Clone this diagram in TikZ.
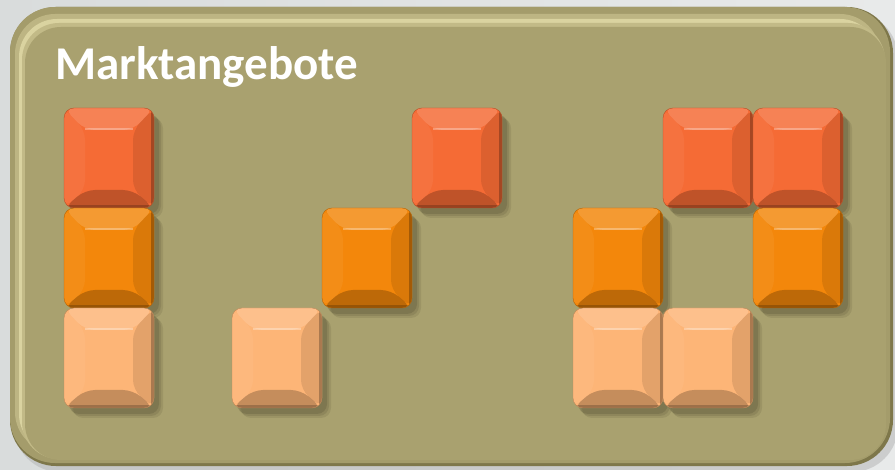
\documentclass[tikz,border=0pt]{standalone}
\usepackage{fontspec}
\setmainfont{Carlito}
\usetikzlibrary{shadows}

\definecolor{bggray}{HTML}{D9DCDC}
\definecolor{panel}{HTML}{A9A16F}
\definecolor{paneldark}{HTML}{7E774A}
\definecolor{panellight}{HTML}{DAD3A0}
\definecolor{tilered}{HTML}{F56B35}
\definecolor{tileorange}{HTML}{F3870B}
\definecolor{tilepeach}{HTML}{FDB577}
\definecolor{tileshadow}{HTML}{3F3C24}

% bevel of a tile, drawn inside its own outline
\newcommand\tilebevel{%
  \fill[white,opacity=.16] (path picture bounding box.north west) -- (path picture bounding box.north east)
    -- ([shift={(-21pt,-22pt)}]path picture bounding box.north east) -- ([shift={(21pt,-22pt)}]path picture bounding box.north west) -- cycle;
  \fill[white,opacity=.05] (path picture bounding box.north west) -- ([shift={(21pt,-22pt)}]path picture bounding box.north west)
    -- ([shift={(21pt,18pt)}]path picture bounding box.south west) -- (path picture bounding box.south west) -- cycle;
  \fill[black,opacity=.1] (path picture bounding box.north east) -- ([shift={(-21pt,-22pt)}]path picture bounding box.north east)
    -- ([shift={(-21pt,18pt)}]path picture bounding box.south east) -- (path picture bounding box.south east) -- cycle;
  \fill[black,opacity=.22] (path picture bounding box.south west) -- ([shift={(21pt,18pt)}]path picture bounding box.south west)
    -- ([shift={(-21pt,18pt)}]path picture bounding box.south east) -- (path picture bounding box.south east) -- cycle;
  \draw[white,opacity=.3,line width=2pt] ([shift={(21pt,-21pt)}]path picture bounding box.north west) -- ([shift={(-21pt,-21pt)}]path picture bounding box.north east);
  \draw[black,opacity=.25,line width=4pt] ([shift={(-1pt,0pt)}]path picture bounding box.north east) -- ([shift={(-1pt,0pt)}]path picture bounding box.south east);
  \draw[black,opacity=.2,line width=4pt] ([shift={(0pt,1pt)}]path picture bounding box.south west) -- ([shift={(0pt,1pt)}]path picture bounding box.south east);
}

\tikzset{
  softshadow/.style={
    general shadow={shadow xshift=9pt, shadow yshift=-10pt, opacity=.12, fill=tileshadow},
    general shadow={shadow xshift=7pt, shadow yshift=-8pt, opacity=.15, fill=tileshadow},
    general shadow={shadow xshift=5pt, shadow yshift=-6pt, opacity=.2, fill=tileshadow}},
  tile/.style={minimum width=90pt, minimum height=100pt, inner sep=0pt, rounded corners=10pt,
    fill=#1, draw=#1!75!black, line width=.4pt, path picture={\tilebevel}, softshadow},
  title/.style={text=white, font=\bfseries\fontsize{47}{50}\selectfont, anchor=base west, inner sep=0pt}
}

\begin{document}
\begin{tikzpicture}[x=1pt,y=-1pt]
\useasboundingbox (0,0) rectangle (895,470);
\shade[left color=bggray, right color=bggray!60!white] (0,0) rectangle (895,470);

% panel
\fill[black!30,opacity=.5,rounded corners=46pt] (14,12) rectangle (898,472);
\fill[paneldark,rounded corners=46pt] (10,7) rectangle (893,466);
\fill[panel!88!paneldark,rounded corners=45pt] (10,7) rectangle (890,463);
\fill[panel!60!panellight,rounded corners=40pt] (15,14) rectangle (880,452);
\fill[panellight,rounded corners=38pt] (19,19) rectangle (878,452);
\fill[panel!50!panellight,rounded corners=37pt] (22,23) rectangle (885,459);
\fill[panel,rounded corners=36pt] (25,27) rectangle (886,460);

\node[title] (head) at (55,80) {Marktangebote};

% tiles, row by row
\foreach \n/\x/\y/\c in {r1/109/158/tilered, r2/457/158/tilered, r3/708/158/tilered, r4/798/158/tilered,
    o1/109/258/tileorange, o2/367/258/tileorange, o3/618/258/tileorange, o4/798/258/tileorange,
    p1/109/358/tilepeach, p2/277/358/tilepeach, p3/618/358/tilepeach, p4/708/358/tilepeach}
  \node[tile=\c] (\n) at (\x,\y) {};

\end{tikzpicture}
\end{document}
